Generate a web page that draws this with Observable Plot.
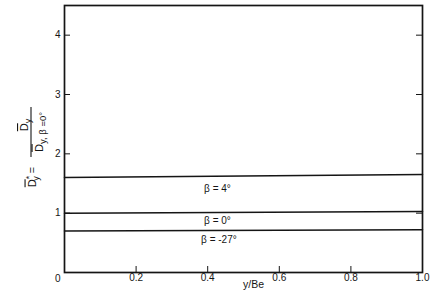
<!DOCTYPE html>
<html><head><meta charset="utf-8">
<script src="https://cdn.jsdelivr.net/npm/d3@7"></script>
<script src="https://cdn.jsdelivr.net/npm/@observablehq/plot@0.6"></script>
<style>body{margin:0;background:#fff} svg{display:block}</style>
</head><body><div id="chart"></div>
<script>
// ---- data ----
const xPositions = [0, 1];              // y/Be at the two ends of each line
const beta4 = [1.60, 1.65];             // D*y for β = 4°
const beta0 = [1.00, 1.03];             // D*y for β = 0°
const betaM27 = [0.70, 0.72];           // D*y for β = -27°
const seriesNames = ["β = 4°", "β = 0°", "β = -27°"];
const yTicks = [0, 1, 2, 3, 4];
const yTickLabels = ["0", "1", "2", "3", "4"];
const xTicks = [0.2, 0.4, 0.6, 0.8, 1.0];
const xTickLabels = ["0.2", "0.4", "0.6", "0.8", "1.0"];
const xLabel = "y/Be";

const seriesValues = [beta4, beta0, betaM27];
const rows = [];
seriesValues.forEach((vals, i) => vals.forEach((v, j) => rows.push({series: seriesNames[i], x: xPositions[j], y: v})));

const W = 435, H = 301, mL = 64, mR = 13, mT = 5, mB = 29;
const plotW = W - mL - mR, plotH = H - mT - mB;
const font = "'Liberation Sans', Arial, sans-serif";
const ink = "#151515";

const labelMark = (i, dy, dx) => Plot.text([seriesNames[i]], {
  x: 0.39, y: () => seriesValues[i][0], text: d => d, dy, dx,
  textAnchor: "start", fontSize: 10, fill: ink
});

const chart = Plot.plot({
  width: W, height: H,
  marginLeft: mL, marginRight: mR, marginTop: mT, marginBottom: mB,
  style: {fontFamily: font, fontSize: "10px", background: "#fff", color: ink},
  x: {domain: [0, 1]},
  y: {domain: [0, 4.5]},
  marks: [
    Plot.tickY(yTicks.slice(1), {y: d => d, insetRight: plotW - 6, stroke: ink}),
    Plot.tickY(yTicks.slice(1), {y: d => d, insetLeft: plotW - 6, stroke: ink}),
    Plot.tickX(xTicks.slice(0, -1), {x: d => d, insetTop: plotH - 6, stroke: ink}),
    Plot.axisY(yTicks.slice(1), {tickSize: 0, tickPadding: 4, label: null,
      tickFormat: d => yTickLabels[yTicks.indexOf(d)], fontSize: 10}),
    Plot.axisY(yTicks.slice(0, 1), {tickSize: 0, tickPadding: 4, dy: 6, label: null,
      tickFormat: d => yTickLabels[yTicks.indexOf(d)], fontSize: 10}),
    Plot.axisX(xTicks, {tickSize: 0, tickPadding: 1, label: null,
      tickFormat: d => xTickLabels[xTicks.indexOf(d)], fontSize: 10}),
    Plot.line(rows, {x: "x", y: "y", z: "series", stroke: ink, strokeWidth: 1.5}),
    labelMark(0, 11.5, 0),
    labelMark(1, 8, 0),
    labelMark(2, 8.5, -3),
    Plot.text([xLabel], {frameAnchor: "bottom", text: d => d, dy: 15, dx: 10, fontSize: 10.5, fill: ink}),
    Plot.frame({stroke: ink, strokeWidth: 1.7})
  ]
});
document.getElementById("chart").appendChild(chart);

// rotated y-axis title:  D̄*y = D̄y / D̄y,β=0°
const svg = d3.select(chart);
const g = svg.append("g")
  .attr("transform", "translate(31,132) rotate(-90)")
  .attr("font-family", font).attr("font-size", 11).attr("fill", ink);

const t1 = g.append("text").attr("x", -45).attr("y", 4.5).attr("text-anchor", "middle");
t1.append("tspan").attr("text-decoration", "overline").text("D");
t1.append("tspan").attr("dy", -4).attr("font-size", 9).text("*");
t1.append("tspan").attr("dx", -5).attr("dy", 7).attr("font-size", 9).text("y");
t1.append("tspan").attr("dy", -3).text(" =");

g.append("line").attr("x1", -25).attr("x2", 25).attr("y1", 0).attr("y2", 0)
  .attr("stroke", ink).attr("stroke-width", 1.1);

const t2 = g.append("text").attr("x", 7).attr("y", -3).attr("text-anchor", "middle");
t2.append("tspan").attr("text-decoration", "overline").text("D");
t2.append("tspan").attr("dy", 3).attr("font-size", 9).text("y");

const t3 = g.append("text").attr("x", 0).attr("y", 11.5).attr("text-anchor", "middle");
t3.append("tspan").attr("text-decoration", "overline").text("D");
t3.append("tspan").attr("dy", 3).attr("font-size", 9.5).text("y, β =0°");
</script>
</body></html>
